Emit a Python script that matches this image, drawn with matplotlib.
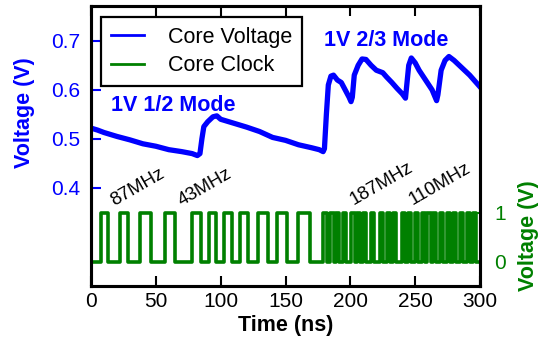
import matplotlib
matplotlib.use("Agg")
import matplotlib.pyplot as plt
from matplotlib.lines import Line2D

plt.rcParams['font.family'] = ['Liberation Sans', 'DejaVu Sans']

BLUE = '#0000ff'
GREEN = '#008000'

# core voltage trace (time ns, volts)
volt_t = [0, 5, 10, 20, 30, 40, 50, 60, 70, 78, 82, 84, 85.5, 87, 90, 94, 97,
          100, 110, 120, 130, 140, 150, 160, 170, 176, 179, 180, 181.5, 183,
          185, 187, 190, 193, 196, 199, 200.5, 201.5, 203, 206, 209, 212, 216,
          220, 225, 228, 232, 236, 240, 242.5, 243.5, 245, 247, 250, 253, 258,
          263, 266.5, 267.5, 270, 273, 276, 280, 286, 292, 297, 300]
volt_v = [0.522, 0.518, 0.513, 0.505, 0.498, 0.490, 0.485, 0.478, 0.474, 0.470,
          0.466, 0.470, 0.500, 0.525, 0.535, 0.545, 0.547, 0.540, 0.532, 0.524,
          0.515, 0.503, 0.497, 0.488, 0.482, 0.478, 0.474, 0.480, 0.550, 0.610,
          0.628, 0.630, 0.620, 0.615, 0.600, 0.585, 0.576, 0.585, 0.630, 0.650,
          0.663, 0.662, 0.650, 0.640, 0.635, 0.626, 0.615, 0.603, 0.592, 0.583,
          0.610, 0.650, 0.665, 0.655, 0.640, 0.620, 0.600, 0.578, 0.590, 0.640,
          0.660, 0.668, 0.660, 0.645, 0.630, 0.615, 0.606]

# clock: times (ns) where the clock goes high and low again
clk_rise = [7.7, 22.4, 37.8, 57.1, 77.9, 91.0, 102.5, 114.9, 128.8, 143.4, 159.6,
            178.9, 184.3, 188.9, 194.3, 200.5, 205.1, 209.7, 215.9, 222.8, 228.2,
            232.8, 239.8, 244.4, 249.8, 255.2, 259.1, 263.7, 269.1, 274.5, 279.1,
            284.5, 289.9, 294.5]
clk_fall = [13.1, 28.5, 46.3, 64.8, 84.8, 96.4, 108.7, 121.0, 136.5, 151.1, 168.9,
            181.6, 187.0, 191.6, 197.0, 203.2, 207.8, 212.4, 218.6, 225.5, 230.9,
            235.5, 242.5, 247.1, 252.5, 257.9, 261.8, 266.4, 271.8, 277.2, 281.8,
            287.2, 292.6, 297.2]
clk_low, clk_high = 0.0, 1.0

freq_labels = ['87MHz', '43MHz', '187MHz', '110MHz']
freq_pos = [(18, 0.364), (70, 0.364), (202.5, 0.366), (248, 0.366)]

xticks = [0, 50, 100, 150, 200, 250, 300]
left_yticks = [0.4, 0.5, 0.6, 0.7]
right_yticks = [0, 1]

clk_t = [0]
clk_v = [clk_low]
for r, f in zip(clk_rise, clk_fall):
    clk_t += [r, r, f, f]
    clk_v += [clk_low, clk_high, clk_high, clk_low]
clk_t.append(300)
clk_v.append(clk_low)

fig = plt.figure(figsize=(5.46, 3.43), dpi=100)
ax = fig.add_axes([0.1667, 0.1662, 0.7125, 0.8163])
ax2 = ax.twinx()

ax.plot(volt_t, volt_v, color=BLUE, lw=3.8, solid_joinstyle='round')
ax2.plot(clk_t, clk_v, color=GREEN, lw=2.6)

ax.set_xlim(0, 300)
ax.set_ylim(0.2, 0.771)
ax2.set_ylim(-0.49, 5.22)
ax.set_xticks(xticks)
ax.set_yticks(left_yticks)
ax2.set_yticks(right_yticks)

ax.tick_params(axis='x', direction='in', top=True, length=7, width=1.5,
               labelsize=15, pad=4)
ax.tick_params(axis='y', direction='in', length=7, width=1.5, colors=BLUE,
               labelsize=15, pad=8)
ax2.tick_params(axis='y', direction='in', length=7, width=1.5, colors=GREEN,
                labelsize=15, pad=10)

for a in (ax, ax2):
    for s in a.spines.values():
        s.set_linewidth(2.2)
        s.set_color('black')

ax.set_xlabel('Time (ns)', fontsize=15.5, fontweight='bold')
ax.xaxis.set_label_coords(0.5, -0.105)
ax.set_ylabel('Voltage (V)', fontsize=15.5, fontweight='bold', color=BLUE)
ax.yaxis.set_label_coords(-0.143, 0.62)
ax2.set_ylabel('Voltage (V)', fontsize=15.5, fontweight='bold', color=GREEN)
ax2.yaxis.set_label_coords(1.097, 0.18)

ax.text(15.5, 0.568, '1V 1/2 Mode', color=BLUE, fontsize=15.5,
        fontweight='bold', va='center')
ax.text(180, 0.700, '1V 2/3 Mode', color=BLUE, fontsize=15.5,
        fontweight='bold', va='center')

for lab, (x, y) in zip(freq_labels, freq_pos):
    ax.text(x, y, lab, fontsize=13.5, rotation=30, rotation_mode='anchor',
            ha='left', va='baseline')

handles = [Line2D([], [], color=BLUE, lw=2), Line2D([], [], color=GREEN, lw=2)]
leg = ax2.legend(handles, ['Core Voltage', 'Core Clock'], loc='upper left',
                 bbox_to_anchor=(0.026, 0.961), borderaxespad=0, fontsize=15.5,
                 fancybox=False, framealpha=1, edgecolor='black',
                 handlelength=1.55, handletextpad=1.1, borderpad=0.45,
                 labelspacing=0.35)
leg.get_frame().set_linewidth(1.6)

fig.savefig('out.png', dpi=100)
